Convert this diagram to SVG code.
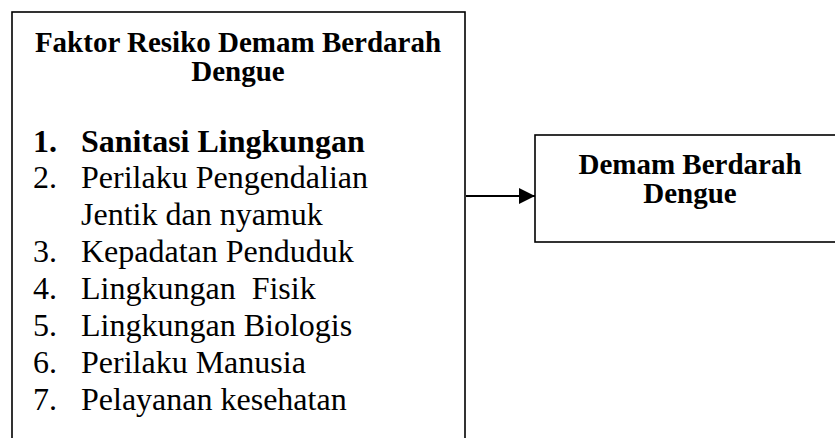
<svg xmlns="http://www.w3.org/2000/svg" width="835" height="438" viewBox="0 0 835 438">
<style>
.box{fill:#fff;stroke:#000;stroke-width:1.6}
.t{font-family:"Liberation Serif","Times New Roman",serif;fill:#000}
.b{font-weight:bold}
.h{font-size:29px;font-weight:bold;text-anchor:middle}
.li{font-size:32px}
</style>
<defs>
<marker id="arr" viewBox="0 0 16 16" refX="16" refY="8" markerWidth="16" markerHeight="16" markerUnits="userSpaceOnUse" orient="auto">
<path d="M0,0 L16,8 L0,16 Z" fill="#000"/>
</marker>
</defs>
<rect width="835" height="438" fill="#fff"/>
<g id="node-faktor">
<rect class="box" x="12" y="12" width="453" height="440"/>
<text class="t h" x="238" y="52">Faktor Resiko Demam Berdarah</text>
<text class="t h" x="238" y="81">Dengue</text>
<text class="t li b" x="33" y="152">1.</text>
<text class="t li b" x="81" y="152">Sanitasi Lingkungan</text>
<text class="t li" x="33" y="188">2.</text>
<text class="t li" x="81" y="188">Perilaku Pengendalian</text>
<text class="t li" x="81" y="225">Jentik dan nyamuk</text>
<text class="t li" x="33" y="262">3.</text>
<text class="t li" x="81" y="262">Kepadatan Penduduk</text>
<text class="t li" x="33" y="299">4.</text>
<text class="t li" x="81" y="299" xml:space="preserve">Lingkungan  Fisik</text>
<text class="t li" x="33" y="336">5.</text>
<text class="t li" x="81" y="336">Lingkungan Biologis</text>
<text class="t li" x="33" y="373">6.</text>
<text class="t li" x="81" y="373">Perilaku Manusia</text>
<text class="t li" x="33" y="410">7.</text>
<text class="t li" x="81" y="410">Pelayanan kesehatan</text>
</g>
<g id="node-dbd">
<rect class="box" x="535" y="135" width="310" height="107"/>
<text class="t h" x="690" y="174">Demam Berdarah</text>
<text class="t h" x="690" y="203">Dengue</text>
</g>
<g id="connectors">
<line x1="466" y1="196" x2="535" y2="196" stroke="#000" stroke-width="2" marker-end="url(#arr)"/>
</g>
</svg>
